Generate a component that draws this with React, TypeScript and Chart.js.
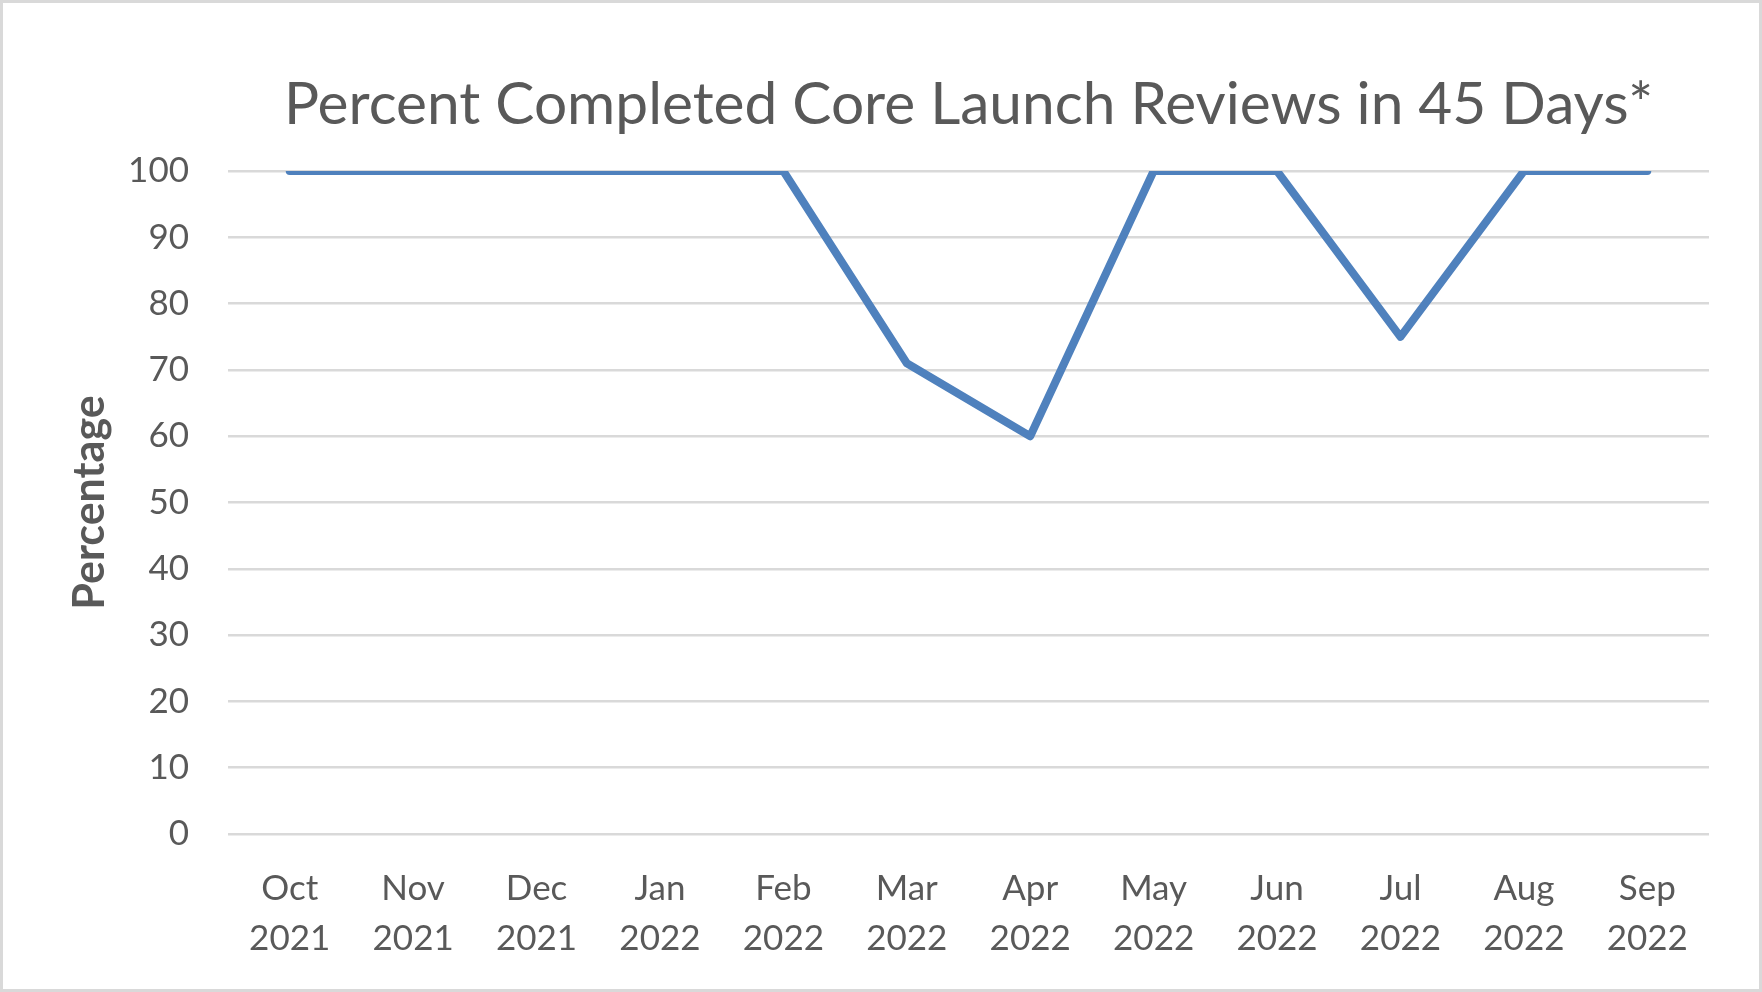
import React, { useEffect, useRef } from "react";
import { Chart, registerables } from "chart.js";

Chart.register(...registerables);

const months: string[] = ["Oct", "Nov", "Dec", "Jan", "Feb", "Mar", "Apr", "May", "Jun", "Jul", "Aug", "Sep"];
const years: string[] = ["2021", "2021", "2021", "2022", "2022", "2022", "2022", "2022", "2022", "2022", "2022", "2022"];
const percentValues: number[] = [100, 100, 100, 100, 100, 71, 60, 100, 100, 75, 100, 100];
const chartTitle = "Percent Completed Core Launch Reviews in 45 Days*";
const yAxisTitle = "Percentage";

const W = 1762;
const H = 992;
const TEXT = "#595959";
const FONT = "Lato, 'Open Sans', sans-serif";

export default function App() {
  const ref = useRef<HTMLCanvasElement | null>(null);

  useEffect(() => {
    if (!ref.current) return;
    const borderPlugin = {
      id: "frame",
      beforeDraw(chart: any) {
        const c = chart.ctx;
        c.save();
        c.fillStyle = "#ffffff";
        c.fillRect(0, 0, chart.width, chart.height);
        c.restore();
      },
      afterDraw(chart: any) {
        const c = chart.ctx;
        c.save();
        c.strokeStyle = "#d9d9d9";
        c.lineWidth = 3;
        c.strokeRect(1.5, 1.5, chart.width - 3, chart.height - 3);
        c.restore();
      },
    };
    const chart = new Chart(ref.current, {
      type: "line",
      data: {
        labels: months.map((m, i) => [m, years[i]]),
        datasets: [
          {
            data: percentValues,
            borderColor: "#4f81bd",
            backgroundColor: "#4f81bd",
            borderWidth: 8,
            borderCapStyle: "round",
            borderJoinStyle: "round",
            pointRadius: 0,
            pointHoverRadius: 0,
            tension: 0,
            fill: false,
          },
        ],
      },
      options: {
        animation: false,
        responsive: false,
        devicePixelRatio: 1,
        layout: { padding: { left: 0, right: 53, top: 0, bottom: 0 } },
        plugins: {
          legend: { display: false },
          tooltip: { enabled: false },
          title: {
            display: true,
            text: chartTitle,
            color: TEXT,
            fullSize: false,
            font: { family: FONT, size: 58.6, weight: "normal", lineHeight: 1.2 },
            padding: { top: 69.5, bottom: 31.2 },
          },
        },
        scales: {
          x: {
            offset: true,
            grid: { display: false, drawTicks: false },
            border: { display: false },
            ticks: {
              color: TEXT,
              font: { family: FONT, size: 35, lineHeight: 50 / 35 },
              padding: 30,
              maxRotation: 0,
              autoSkip: false,
            },
            afterFit(scale: any) {
              scale.height = H - 834;
            },
          },
          y: {
            min: 0,
            max: 100,
            grid: { color: "#d9d9d9", lineWidth: 2.5, drawTicks: false },
            border: { display: false },
            ticks: {
              stepSize: 10,
              color: TEXT,
              font: { family: FONT, size: 35 },
              padding: 39,
            },
            title: {
              display: true,
              text: yAxisTitle,
              color: TEXT,
              font: { family: FONT, size: 43, weight: "bold", lineHeight: 1.2 },
              padding: { top: 64, bottom: 0 },
            },
            afterFit(scale: any) {
              scale.width = 228;
            },
          },
        },
      },
      plugins: [borderPlugin],
    });
    return () => chart.destroy();
  }, []);

  return (
    <div style={{ position: "absolute", left: 0, top: 0, width: W, height: H, background: "#fff" }}>
      <canvas ref={ref} width={W} height={H} style={{ width: W, height: H, display: "block" }} />
    </div>
  );
}
